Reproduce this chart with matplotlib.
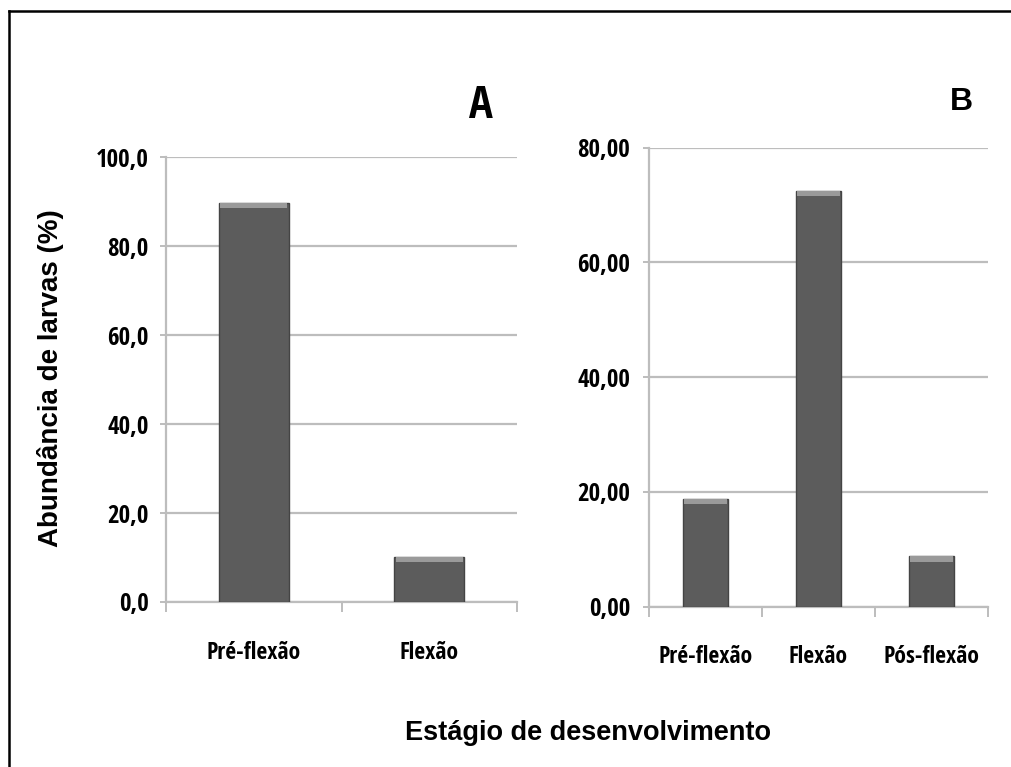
import numpy as np
import matplotlib
matplotlib.use('Agg')
import matplotlib.pyplot as plt
from matplotlib.lines import Line2D
from matplotlib.ticker import FixedLocator, FuncFormatter

# ---- data ----
cats_a = ['Pré-flexão', 'Flexão']
vals_a = [89.8, 10.2]
yticks_a = [0, 20, 40, 60, 80, 100]

cats_b = ['Pré-flexão', 'Flexão', 'Pós-flexão']
vals_b = [18.8, 72.5, 8.8]
yticks_b = [0, 20, 40, 60, 80]

W, H = 1012, 767
fig = plt.figure(figsize=(W / 100, H / 100), dpi=100)

FAM = 'Liberation Sans'
COND = 'Open Sans Condensed'
GRID = '#bdbdbd'
BAR = '#5c5c5c'
EDGE = '#444444'
TOP = '#9a9a9a'


def px_box(x0, y0, x1, y1):
    # pixel box (top-left origin) -> figure fraction rect
    return [x0 / W, 1 - y1 / H, (x1 - x0) / W, (y1 - y0) / H]


def narrow(lab, size):
    lab.set_fontfamily(COND)
    lab.set_fontweight('bold')
    lab.set_fontsize(size)


def panel(rect, cats, vals, yticks, ndec, ypad):
    ax = fig.add_axes(rect)
    x = np.arange(len(cats))
    ax.bar(x, vals, width=0.4, color=BAR, edgecolor=EDGE, linewidth=1.0, zorder=3)
    # bevel highlight on top of each bar
    strip = yticks[-1] * 0.012
    ax.bar(x, [strip] * len(vals), bottom=[v - strip for v in vals], width=0.38,
           color=TOP, linewidth=0, zorder=4)
    ax.set_xlim(-0.5, len(cats) - 0.5)
    ax.set_ylim(yticks[0], yticks[-1])
    ax.set_yticks(yticks)
    ax.yaxis.set_major_formatter(FuncFormatter(lambda v, p: f'{v:.{ndec}f}'.replace('.', ',')))
    ax.grid(axis='y', color=GRID, linewidth=1.6, zorder=0)
    ax.set_xticks(x)
    ax.set_xticklabels(cats)
    ax.xaxis.set_minor_locator(FixedLocator(np.arange(len(cats) + 1) - 0.5))
    ax.tick_params(axis='x', which='major', length=0, pad=28)
    ax.tick_params(axis='x', which='minor', length=7, width=1.4, color=GRID)
    ax.tick_params(axis='y', length=4, width=1.4, color=GRID, pad=ypad)
    for lab in ax.get_xticklabels():
        narrow(lab, 17)
    for lab in ax.get_yticklabels():
        narrow(lab, 18)
    for s in ['top', 'right']:
        ax.spines[s].set_visible(False)
    for s in ['left', 'bottom']:
        ax.spines[s].set_color(GRID)
        ax.spines[s].set_linewidth(1.6)
    return ax


panel(px_box(166, 157.3, 517, 602), cats_a, vals_a, yticks_a, 1, 8.5)
panel(px_box(649, 147.7, 988, 606.5), cats_b, vals_b, yticks_b, 2, 9.5)

# panel letters
fig.text(481 / W, 1 - 107 / H, 'A', fontfamily=COND,
         fontweight='bold', fontsize=32, ha='center', va='center')
fig.text(961 / W, 1 - 101.5 / H, 'B', fontfamily=FAM,
         fontweight='bold', fontsize=23, ha='center', va='center')

# axis titles
fig.text(51 / W, 1 - 378 / H, 'Abundância de larvas (%)', fontfamily=FAM,
         fontweight='bold', fontsize=20, rotation=90,
         ha='center', va='center')
fig.text(588 / W, 1 - 733 / H, 'Estágio de desenvolvimento', fontfamily=FAM,
         fontweight='bold', fontsize=19.5, ha='center', va='center')

# frame (only left and top edges fall inside the crop)
fig.add_artist(Line2D([9 / W, 9 / W], [0, 1 - 11 / H], color='black', linewidth=1.8,
                      transform=fig.transFigure))
fig.add_artist(Line2D([9 / W, 1], [1 - 11 / H, 1 - 11 / H], color='black', linewidth=1.8,
                      transform=fig.transFigure))

fig.savefig('out.png', dpi=100)
